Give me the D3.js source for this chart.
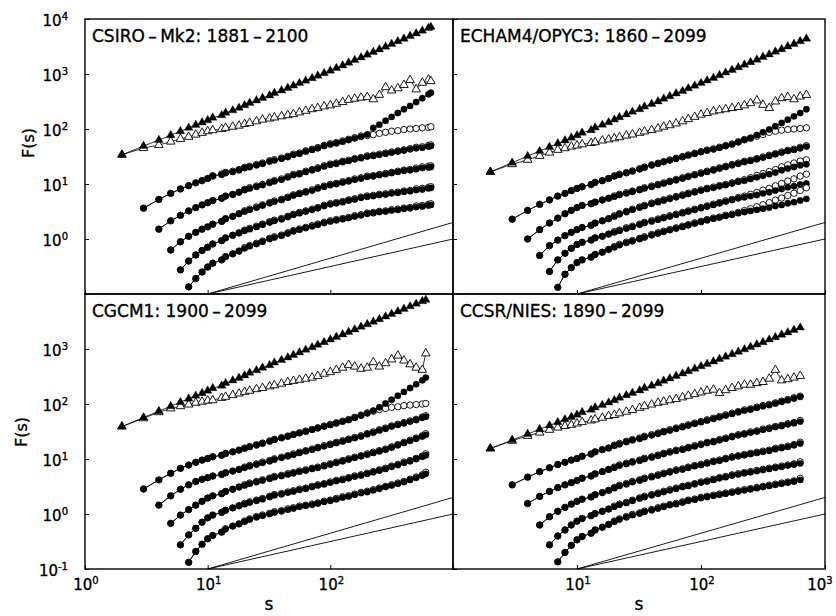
<!DOCTYPE html>
<html>
<head>
<meta charset="utf-8">
<script src="https://cdn.jsdelivr.net/npm/d3@7"></script>
<style>
  body { margin: 0; background: #fff; }
  svg { display: block; font-family: "DejaVu Sans", sans-serif; }
  text { fill: #000; stroke: #000; stroke-width: 0.35px; }
</style>
</head>
<body>
<svg id="chart" width="836" height="616"></svg>
<script>
// window sizes s (months); every run ends at its own N/4
var sBase = [2,3,4,5,6,7,8,9,10,11,13,14,16,18,20,22,25,28,32,35,40,45,50,56,63,71,79,89,100,
  112,126,141,158,178,200,224,251,282,316,355,398,447,501,562];
var sCSIRO = sBase.concat([631, 660]);
var sECHAM = sBase.concat([631, 708]);
var sCGCM = sBase.concat([600]);
var sCCSR = sBase.concat([631]);

// tick values
var xTicks = [1, 10, 100, 1000];
var yTicks = [0.1, 1, 10, 100, 1000, 10000];
var yLabelsTop = [1, 10, 100, 1000, 10000];
var yLabelsBottom = [0.1, 1, 10, 100, 1000];
var xLabelsLeft = [1, 10, 100];
var xLabelsRight = [10, 100, 1000];

// guide lines, both from s=10
var refS = [10, 1000];
var refLow = [0.1, 1.0];
var refHigh = [0.1, 2.0];

// ---- CSIRO-Mk2 ----
var csiroFT = [34,49,63,77,91,105,118,131,144,160,177,197,218,242,269,298,330,366,406,451,500,555,615,682,757,839,931,1030,1150,1280,1430,1600,1790,2000,2240,2510,2800,3130,3500,3920,4380,4900,5470,6120,6840,7160];
var csiroOT = [34,45,51,59,66,72,79,85,91,95,100,105,110,115,123,129,138,148,155,162,170,178,186,200,214,229,240,257,269,288,309,339,355,372,380,347,417,575,501,550,631,776,525,692,794,741];
var csiroC1 = [3.63,5.25,6.76,8.13,9.33,10.5,11.5,12.6,13.8,14.8,15.8,16.6,17.8,19.5,20.4,21.9,23.4,25.7,26.9,28.8,30.9,33.9,35.5,38.9,41.7,44.7,49.0,52.5,55.0,58.9,63.1,67.6,72.4,79.4,105,120,141,166,195,229,263,309,363,427,457];
var csiroC1o = [3.63,5.25,6.76,8.13,9.33,10.5,11.5,12.6,14.2,15.2,16.3,17.1,18.3,20.1,21.0,22.6,24.1,26.5,27.7,29.7,31.8,34.9,36.6,40.1,43.0,46.0,50.5,54.1,56.7,60.7,65.0,69.6,74.6,75.9,79.4,83.2,87.1,91.2,93.3,97.7,100,102,105,107,110];
var csiroC2 = [1.51,2.14,2.69,3.24,3.72,4.17,4.57,5.01,5.50,6.03,6.46,7.08,7.76,8.32,8.91,9.55,10.5,11.2,12.0,13.2,14.5,15.1,16.6,17.8,19.1,20.9,22.4,23.4,25.1,26.3,28.2,29.5,31.6,32.4,33.9,35.5,37.2,38.9,40.7,42.7,44.7,45.7,47.9,49.0];
var csiroC2o = [1.51,2.14,2.69,3.24,3.72,4.17,4.57,5.01,5.50,6.03,6.46,7.08,7.99,8.57,9.18,9.84,10.8,11.5,12.4,13.6,14.9,15.6,17.1,18.3,19.7,21.5,23.1,24.1,25.9,27.1,29.0,30.4,32.5,33.4,34.9,36.6,38.3,40.1,41.9,44.0,46.5,47.5,50.3,51.5];
var csiroC3 = [0.631,0.891,1.12,1.32,1.51,1.66,1.86,2.09,2.34,2.57,2.88,3.16,3.39,3.72,4.07,4.47,4.79,5.13,5.62,6.17,6.61,7.08,7.59,8.32,8.91,9.55,10.0,10.7,11.2,12.0,12.6,13.5,13.8,14.5,15.1,15.8,16.6,17.4,17.8,18.6,19.5,20.0,20.4];
var csiroC3o = [0.631,0.891,1.12,1.32,1.51,1.66,1.86,2.09,2.34,2.57,2.88,3.26,3.49,3.83,4.19,4.60,4.93,5.28,5.79,6.36,6.81,7.29,7.82,8.57,9.18,9.84,10.3,11.0,11.5,12.4,13.0,13.9,14.2,14.9,15.6,16.3,17.1,17.9,18.3,19.5,20.5,21.0,21.4];
var csiroC4 = [0.275,0.398,0.513,0.617,0.708,0.813,0.933,1.05,1.17,1.29,1.41,1.51,1.66,1.82,2.00,2.14,2.29,2.51,2.75,2.95,3.16,3.39,3.63,3.98,4.27,4.47,4.68,5.01,5.25,5.62,5.89,6.03,6.31,6.46,6.76,6.92,7.24,7.41,7.76,7.94,8.32,8.51];
var csiroC4o = [0.275,0.398,0.513,0.617,0.708,0.813,0.933,1.05,1.17,1.29,1.45,1.56,1.71,1.87,2.06,2.20,2.36,2.59,2.83,3.04,3.25,3.49,3.74,4.10,4.40,4.60,4.82,5.16,5.41,5.79,6.07,6.21,6.50,6.65,6.96,7.13,7.46,7.63,8.15,8.34,8.74,8.94];
var csiroC5 = [0.135,0.191,0.251,0.309,0.363,0.417,0.479,0.537,0.603,0.676,0.741,0.813,0.891,1.00,1.07,1.15,1.26,1.38,1.48,1.58,1.70,1.82,1.95,2.09,2.19,2.29,2.40,2.57,2.69,2.88,2.95,3.09,3.16,3.31,3.39,3.55,3.63,3.80,3.89,4.07,4.17];
var csiroC5o = [0.135,0.191,0.251,0.309,0.363,0.417,0.479,0.537,0.603,0.696,0.763,0.837,0.918,1.03,1.10,1.18,1.30,1.42,1.52,1.63,1.75,1.87,2.01,2.15,2.26,2.36,2.47,2.65,2.77,2.97,3.04,3.18,3.25,3.41,3.49,3.66,3.74,3.99,4.08,4.27,4.38];

// ---- ECHAM4/OPYC3 ----
var echamFT = [16.6,24.4,32.1,39.6,47.1,54.6,61.9,69.2,76.6,85.3,95.3,106,119,132,148,164,184,205,229,255,284,317,354,394,441,491,548,611,682,760,849,946,1060,1180,1320,1470,1640,1820,2040,2270,2540,2830,3160,3520,3930,4380];
var echamOT = [16.6,22.9,27.5,32.4,37.2,41.7,44.7,47.9,50.1,52.5,55.6,57.5,61.7,64.6,67.6,70.8,75.9,79.4,85.1,90.2,95.5,102,110,117,126,138,151,166,182,195,209,219,229,240,251,269,295,331,275,240,316,363,380,347,389,417];
var echamC1 = [2.29,3.31,4.27,5.13,6.03,6.76,7.59,8.32,8.91,9.77,10.7,11.5,12.6,13.8,14.8,15.8,17.0,18.6,20.0,21.9,23.4,25.1,26.9,28.8,30.9,33.1,35.5,38.0,40.7,42.7,45.7,49.0,52.5,57.5,63.1,69.2,77.6,87.1,97.7,112,129,148,170,195,229];
var echamC1o = [2.29,3.31,4.27,5.13,6.03,6.76,7.59,8.32,8.91,9.77,10.7,11.5,12.6,14.1,15.1,16.1,17.3,19.0,20.4,22.3,23.9,25.6,27.4,29.4,31.5,33.8,36.2,38.8,41.5,43.6,46.6,50.0,53.6,58.7,64.4,67.6,74.1,79.4,87.1,91.2,95.5,97.7,100,102,105];
var echamC2 = [1.00,1.48,1.95,2.40,2.88,3.31,3.72,4.07,4.37,4.68,5.13,5.50,5.89,6.31,6.76,7.24,7.76,8.32,8.91,9.55,10.2,11.0,11.7,12.6,13.5,14.5,15.5,16.6,17.8,19.1,20.4,21.9,23.4,25.1,26.3,28.2,30.2,32.4,34.7,37.2,39.8,41.7,44.7,47.9];
var echamC2o = [1.00,1.48,1.95,2.40,2.88,3.31,3.72,4.07,4.37,4.68,5.13,5.50,6.07,6.50,6.96,7.46,7.99,8.57,9.18,9.84,10.5,11.3,12.1,13.0,13.9,14.9,16.0,17.1,18.3,19.7,21.0,22.6,24.1,25.9,27.1,29.0,31.1,33.4,35.7,38.3,41.0,43.0,46.5,49.8];
var echamC3 = [0.501,0.759,0.955,1.15,1.32,1.48,1.62,1.78,1.95,2.14,2.34,2.57,2.82,3.09,3.39,3.72,3.98,4.37,4.68,5.01,5.37,5.75,6.17,6.61,7.08,7.59,8.13,8.51,9.12,9.55,10.2,11.0,11.5,12.3,13.2,14.1,15.1,16.2,17.8,19.1,20.4,21.9,22.9];
var echamC3o = [0.501,0.759,0.955,1.15,1.32,1.48,1.62,1.78,1.95,2.14,2.34,2.65,2.90,3.18,3.49,3.83,4.10,4.50,4.82,5.16,5.53,5.92,6.36,6.81,7.29,7.82,8.37,8.77,9.39,9.84,10.5,11.3,12.0,13.0,14.3,15.5,16.9,18.3,20.5,22.3,24.1,26.1,27.5];
var echamC4 = [0.257,0.417,0.550,0.676,0.794,0.871,0.955,1.05,1.12,1.23,1.32,1.41,1.55,1.66,1.82,1.95,2.09,2.24,2.40,2.57,2.75,2.95,3.16,3.39,3.63,3.89,4.17,4.47,4.79,5.13,5.50,5.75,6.03,6.31,6.76,7.08,7.59,8.13,8.71,9.12,9.77,10.2];
var echamC4o = [0.257,0.417,0.550,0.676,0.794,0.871,0.955,1.05,1.12,1.23,1.36,1.45,1.60,1.71,1.87,2.01,2.15,2.31,2.47,2.65,2.83,3.04,3.25,3.49,3.74,4.01,4.30,4.60,4.93,5.28,5.67,6.04,6.51,7.00,7.71,8.35,9.26,10.2,11.3,12.4,13.9,15.1];
var echamC5 = [0.132,0.229,0.302,0.372,0.417,0.468,0.525,0.575,0.646,0.708,0.776,0.851,0.912,1.00,1.07,1.17,1.26,1.35,1.45,1.55,1.66,1.78,1.91,2.04,2.19,2.34,2.45,2.63,2.75,2.95,3.09,3.24,3.39,3.55,3.72,3.98,4.17,4.47,4.68,5.01,5.37];
var echamC5o = [0.132,0.229,0.302,0.372,0.417,0.468,0.525,0.575,0.646,0.729,0.799,0.877,0.939,1.03,1.10,1.21,1.30,1.39,1.49,1.60,1.71,1.83,1.97,2.10,2.26,2.41,2.52,2.71,2.83,3.04,3.28,3.56,3.86,4.19,4.58,5.09,5.55,6.17,6.79,7.62,8.51];

// ---- CGCM1 ----
var cgcmFT = [38.9,56.8,74.1,91.2,108,125,141,157,174,194,215,240,267,297,330,368,409,456,507,565,628,700,778,867,964,1070,1190,1330,1480,1650,1830,2040,2270,2530,2810,3130,3480,3880,4320,4810,5350,5960,6620,7380,7830];
var cgcmOT = [38.9,55.0,70.8,83.2,91.2,97.7,105,110,115,117,129,135,145,155,166,174,186,195,209,219,234,251,263,275,288,302,324,355,380,417,457,513,479,437,457,575,479,550,646,759,617,525,457,417,832];
var cgcmC1 = [2.85,4.17,5.50,6.76,7.76,8.71,9.55,10.2,11.0,11.7,12.6,13.5,14.5,15.5,16.6,17.8,19.1,20.9,22.4,24.0,25.7,27.5,29.5,31.6,33.9,36.3,38.9,41.7,44.7,47.9,51.3,56.2,61.7,67.6,75.9,87.1,102,120,141,166,195,229,269,302];
var cgcmC1o = [2.85,4.17,5.50,6.76,7.76,8.71,9.55,10.2,11.0,11.7,12.6,13.5,14.5,15.8,16.9,18.2,19.5,21.3,22.8,24.5,26.2,28.1,30.1,32.2,34.6,37.0,39.7,42.5,45.6,48.9,52.3,57.3,62.9,69.0,74.1,79.4,83.2,87.1,89.1,93.3,95.5,97.7,100,102];
var cgcmC2 = [1.45,2.14,2.82,3.39,3.89,4.27,4.57,4.90,5.25,5.62,6.03,6.46,6.92,7.41,7.94,8.51,9.12,9.77,10.5,11.2,12.0,12.9,13.8,14.8,15.8,17.0,18.2,19.5,20.9,22.4,24.0,25.7,28.2,30.2,33.1,35.5,38.9,41.7,44.7,47.9,51.3,56.2,58.9];
var cgcmC2o = [1.45,2.14,2.82,3.39,3.89,4.27,4.57,4.90,5.25,5.62,6.03,6.46,7.13,7.63,8.18,8.77,9.39,10.1,10.8,11.5,12.4,13.3,14.2,15.2,16.3,17.5,18.7,20.1,21.5,23.1,24.7,26.5,29.0,31.1,34.1,36.6,40.1,43.0,46.0,49.3,52.8,57.9,61.3];
var cgcmC3 = [0.676,0.955,1.20,1.45,1.70,1.95,2.14,2.34,2.57,2.82,3.09,3.31,3.55,3.80,4.07,4.37,4.68,4.90,5.25,5.50,5.89,6.17,6.61,6.92,7.41,7.94,8.51,9.12,9.77,10.5,11.2,12.0,12.9,13.8,14.8,16.2,17.8,19.5,21.4,23.4,25.7,27.5];
var cgcmC3o = [0.676,0.955,1.20,1.45,1.70,1.95,2.14,2.34,2.57,2.82,3.09,3.41,3.66,3.91,4.19,4.50,4.82,5.05,5.41,5.67,6.07,6.36,6.81,7.13,7.63,8.18,8.77,9.39,10.1,10.8,11.5,12.4,13.3,14.2,15.2,16.7,18.3,20.1,22.0,24.1,26.5,28.9];
var cgcmC4 = [0.275,0.417,0.550,0.708,0.851,0.955,1.07,1.17,1.29,1.41,1.51,1.62,1.74,1.86,2.04,2.19,2.29,2.45,2.57,2.75,2.88,3.09,3.31,3.47,3.72,3.98,4.17,4.47,4.79,5.01,5.37,5.75,6.17,6.61,7.24,7.76,8.51,9.12,10.0,11.0,11.7];
var cgcmC4o = [0.275,0.417,0.550,0.708,0.851,0.955,1.07,1.17,1.29,1.41,1.56,1.67,1.79,1.92,2.10,2.26,2.36,2.52,2.65,2.83,2.97,3.18,3.41,3.57,3.83,4.10,4.30,4.60,4.93,5.16,5.53,5.92,6.36,6.81,7.46,7.99,8.77,9.39,10.3,11.3,12.4];
var cgcmC5 = [0.132,0.209,0.282,0.355,0.407,0.468,0.537,0.603,0.661,0.724,0.794,0.871,0.933,1.00,1.07,1.12,1.20,1.26,1.35,1.41,1.48,1.55,1.66,1.74,1.86,2.00,2.09,2.24,2.40,2.51,2.69,2.88,3.09,3.31,3.55,3.80,4.17,4.57,5.01,5.37];
var cgcmC5o = [0.132,0.209,0.282,0.355,0.407,0.468,0.537,0.603,0.661,0.746,0.818,0.897,0.961,1.03,1.10,1.15,1.24,1.30,1.39,1.45,1.52,1.60,1.71,1.79,1.92,2.06,2.15,2.31,2.47,2.59,2.77,2.97,3.18,3.41,3.66,3.91,4.30,4.71,5.16,5.75];

// ---- CCSR/NIES ----
var ccsrFT = [15.5,22.1,28.5,34.7,40.7,46.7,52.5,58.2,63.8,70.6,78.2,86.5,95.7,106,117,130,144,159,176,195,215,238,264,292,323,357,395,438,484,536,593,656,726,804,889,984,1090,1210,1330,1480,1630,1810,2000,2210,2450];
var ccsrOT = [15.5,21.4,26.3,30.2,33.9,37.2,39.8,41.7,44.2,46.8,50.1,52.5,56.2,60.3,63.1,67.6,72.4,77.6,85.1,91.2,97.7,105,110,117,123,132,141,151,162,174,182,158,178,195,209,224,224,240,251,288,417,269,282,302,324];
var ccsrC1 = [3.39,4.68,5.89,6.92,7.94,8.71,9.55,10.2,11.2,12.3,13.5,14.8,15.8,17.4,18.6,20.4,21.9,23.4,25.1,26.9,28.8,30.9,33.1,35.5,38.0,40.7,43.7,46.8,50.1,53.7,57.5,61.7,66.1,70.8,75.9,79.4,85.1,91.2,95.5,102,110,117,126,135];
var ccsrC1o = [3.39,4.68,5.89,6.92,7.94,8.71,9.55,10.2,11.2,12.3,13.5,14.8,15.8,17.9,19.2,21.0,22.6,24.1,25.9,27.7,29.7,31.8,34.1,36.6,39.1,41.9,45.0,48.2,51.6,55.3,59.2,63.6,68.1,72.9,78.2,81.8,87.7,93.9,98.4,105,113,121,130,139];
var ccsrC2 = [1.55,2.09,2.57,3.02,3.39,3.72,4.07,4.47,4.90,5.37,5.89,6.46,6.92,7.59,8.13,8.71,9.33,10.0,10.7,11.5,12.3,13.2,14.1,14.8,15.8,17.0,18.2,19.5,20.4,21.9,23.4,25.1,26.9,28.2,30.2,31.6,33.9,35.5,38.0,39.8,42.7,44.7,47.9];
var ccsrC2o = [1.55,2.09,2.57,3.02,3.39,3.72,4.07,4.47,4.90,5.37,5.89,6.46,7.13,7.82,8.37,8.97,9.61,10.3,11.0,11.8,12.7,13.6,14.5,15.2,16.3,17.5,18.7,20.1,21.0,22.6,24.1,25.9,27.7,29.0,31.1,32.5,34.9,36.6,39.1,41.0,44.0,46.0,50.3];
var ccsrC3 = [0.631,0.891,1.12,1.32,1.51,1.70,1.86,2.04,2.24,2.45,2.69,2.95,3.24,3.47,3.80,4.07,4.37,4.68,5.01,5.37,5.75,6.17,6.46,6.92,7.41,7.76,8.32,8.91,9.33,10.0,10.7,11.2,11.7,12.3,12.9,13.5,14.1,15.1,15.8,16.6,17.8,19.1];
var ccsrC3o = [0.631,0.891,1.12,1.32,1.51,1.70,1.86,2.04,2.24,2.45,2.69,3.04,3.34,3.57,3.91,4.19,4.50,4.82,5.16,5.53,5.92,6.36,6.65,7.13,7.63,7.99,8.57,9.18,9.61,10.3,11.0,11.5,12.1,12.7,13.3,13.9,14.5,15.6,16.3,17.1,18.3,20.2];
var ccsrC4 = [0.275,0.398,0.513,0.631,0.741,0.832,0.933,1.02,1.12,1.23,1.35,1.48,1.58,1.74,1.91,2.04,2.19,2.34,2.51,2.69,2.88,3.09,3.24,3.47,3.72,3.89,4.17,4.47,4.68,5.01,5.25,5.50,5.75,6.03,6.31,6.61,6.92,7.24,7.59,7.94,8.32];
var ccsrC4o = [0.275,0.398,0.513,0.631,0.741,0.832,0.933,1.02,1.12,1.23,1.39,1.52,1.63,1.79,1.97,2.10,2.26,2.41,2.59,2.77,2.97,3.18,3.34,3.57,3.83,4.01,4.30,4.60,4.82,5.16,5.41,5.67,5.92,6.21,6.50,6.81,7.13,7.46,7.82,8.18,8.90];
var ccsrC5 = [0.135,0.200,0.269,0.339,0.389,0.447,0.513,0.575,0.646,0.724,0.794,0.871,0.955,1.02,1.10,1.17,1.26,1.35,1.45,1.51,1.62,1.74,1.82,1.95,2.04,2.14,2.24,2.34,2.45,2.57,2.69,2.82,2.95,3.09,3.24,3.39,3.55,3.72,3.89,4.17];
var ccsrC5o = [0.135,0.200,0.269,0.339,0.389,0.447,0.513,0.575,0.646,0.746,0.818,0.897,0.984,1.05,1.13,1.21,1.30,1.39,1.49,1.56,1.67,1.79,1.87,2.01,2.10,2.20,2.31,2.41,2.52,2.65,2.77,2.91,3.04,3.18,3.34,3.49,3.66,3.83,4.01,4.46];

var panels = [
  { title: "CSIRO\u2009\u2013\u2009Mk2: 1881\u2009\u2013\u20092100", s: sCSIRO, ft: csiroFT, ot: csiroOT,
    filled: [csiroC1, csiroC2, csiroC3, csiroC4, csiroC5], open: [csiroC1o, csiroC2o, csiroC3o, csiroC4o, csiroC5o] },
  { title: "ECHAM4/OPYC3: 1860\u2009\u2013\u20092099", s: sECHAM, ft: echamFT, ot: echamOT,
    filled: [echamC1, echamC2, echamC3, echamC4, echamC5], open: [echamC1o, echamC2o, echamC3o, echamC4o, echamC5o] },
  { title: "CGCM1: 1900\u2009\u2013\u20092099", s: sCGCM, ft: cgcmFT, ot: cgcmOT,
    filled: [cgcmC1, cgcmC2, cgcmC3, cgcmC4, cgcmC5], open: [cgcmC1o, cgcmC2o, cgcmC3o, cgcmC4o, cgcmC5o] },
  { title: "CCSR/NIES: 1890\u2009\u2013\u20092099", s: sCCSR, ft: ccsrFT, ot: ccsrOT,
    filled: [ccsrC1, ccsrC2, ccsrC3, ccsrC4, ccsrC5], open: [ccsrC1o, ccsrC2o, ccsrC3o, ccsrC4o, ccsrC5o] }
];

var cols = [[85, 453], [453, 825]];
var rows = [[19, 294], [294, 569]];

var svg = d3.select("#chart");

// pair values with their window sizes; order n starts at s = n + 2
function pairs(s, vals, start) {
  return vals.map(function (v, i) { return [s[start + i], v]; })
    .filter(function (d) { return d[0] !== undefined; });
}

function label10(sel, exp) {
  sel.append("tspan").text("10");
  sel.append("tspan").attr("dy", -6).attr("font-size", 10).text(exp);
}

panels.forEach(function (p, k) {
  var c = cols[k % 2], r = rows[Math.floor(k / 2)];
  var x = d3.scaleLog().domain([1, 1000]).range(c);
  var y = d3.scaleLog().domain([0.1, 10000]).range([r[1], r[0]]);
  var g = svg.append("g");

  var line = d3.line().x(function (d) { return x(d[0]); }).y(function (d) { return y(d[1]); });
  var tri = d3.symbol().type(d3.symbolTriangle).size(32);

  // ticks (inward)
  g.append("g").attr("transform", "translate(" + c[0] + ",0)")
    .call(d3.axisLeft(y).tickValues(yTicks).tickSize(-4).tickFormat(""))
    .call(function (a) { a.select(".domain").remove(); a.selectAll("line").attr("stroke-width", 1); });
  g.append("g").attr("transform", "translate(0," + r[1] + ")")
    .call(d3.axisBottom(x).tickValues(xTicks).tickSize(-4).tickFormat(""))
    .call(function (a) { a.select(".domain").remove(); a.selectAll("line").attr("stroke-width", 1); });

  // guide lines
  [refLow, refHigh].forEach(function (f) {
    g.append("path").attr("d", line(refS.map(function (s, i) { return [s, f[i]]; })))
      .attr("fill", "none").attr("stroke", "#000").attr("stroke-width", 0.9);
  });

  function drawCircles(data, filled) {
    g.append("path").attr("d", line(data)).attr("fill", "none").attr("stroke", "#000").attr("stroke-width", 0.8);
    g.append("g").selectAll("circle").data(data).enter().append("circle")
      .attr("cx", function (d) { return x(d[0]); })
      .attr("cy", function (d) { return y(d[1]); })
      .attr("r", 3.2)
      .attr("fill", filled ? "#000" : "#fff")
      .attr("stroke", "#000").attr("stroke-width", filled ? 0.3 : 0.9);
  }
  function drawTriangles(data, filled) {
    g.append("path").attr("d", line(data)).attr("fill", "none").attr("stroke", "#000").attr("stroke-width", 0.8);
    g.append("g").selectAll("path").data(data).enter().append("path")
      .attr("d", tri)
      .attr("transform", function (d) { return "translate(" + x(d[0]) + "," + y(d[1]) + ")"; })
      .attr("fill", filled ? "#000" : "#fff")
      .attr("stroke", "#000").attr("stroke-width", filled ? 0.3 : 0.9);
  }

  drawTriangles(pairs(p.s, p.ot, 0), false);
  drawTriangles(pairs(p.s, p.ft, 0), true);
  p.filled.forEach(function (vals, n) {
    drawCircles(pairs(p.s, p.open[n], n + 1), false);
    drawCircles(pairs(p.s, vals, n + 1), true);
  });

  // frame
  g.append("rect").attr("x", c[0]).attr("y", r[0]).attr("width", c[1] - c[0]).attr("height", r[1] - r[0])
    .attr("fill", "none").attr("stroke", "#000").attr("stroke-width", 1.4);

  // title
  g.append("text").attr("x", c[0] + 7).attr("y", r[0] + 23)
    .attr("font-size", 17).text(p.title);

  // y labels on the left column
  if (k % 2 === 0) {
    var yl = k < 2 ? yLabelsTop : yLabelsBottom;
    yl.forEach(function (v) {
      var t = g.append("text").attr("x", c[0] - 17).attr("y", y(v) + 7)
        .attr("text-anchor", "end").attr("font-size", 15);
      label10(t, Math.round(Math.log10(v)));
    });
    g.append("text")
      .attr("transform", "translate(" + (k < 2 ? 34 : 27) + "," + (k < 2 ? 143 : 432) + ") rotate(-90)")
      .attr("text-anchor", "middle").attr("font-size", 16).text("F(s)");
  }
  // x labels on the bottom row
  if (k >= 2) {
    var xl = k === 2 ? xLabelsLeft : xLabelsRight;
    xl.forEach(function (v) {
      var t = g.append("text").attr("x", Math.min(x(v) + 1, 820)).attr("y", r[1] + 21)
        .attr("text-anchor", "middle").attr("font-size", 15);
      label10(t, Math.round(Math.log10(v)));
    });
    g.append("text").attr("x", (c[0] + c[1]) / 2).attr("y", 610)
      .attr("text-anchor", "middle").attr("font-size", 17).text("s");
  }
});
</script>
</body>
</html>
